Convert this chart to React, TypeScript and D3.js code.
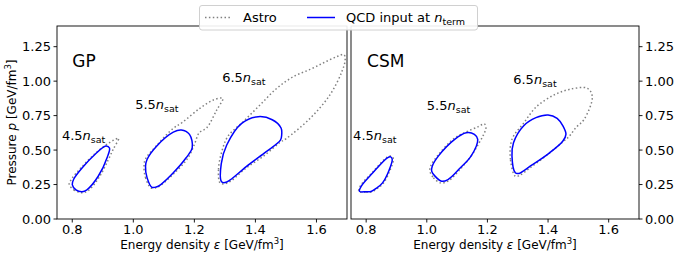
import React from "react";
import * as d3 from "d3";

type Pt = [number, number];

// axis ticks
const xTicks = [0.8, 1.0, 1.2, 1.4, 1.6];
const yTicks = [0, 0.25, 0.5, 0.75, 1.0, 1.25];
const densities = ["4.5", "5.5", "6.5"];

// GP panel contours (energy density, pressure)
const gp45Astro: Pt[] = [[0.79, 0.25], [0.805, 0.212], [0.83, 0.19], [0.852, 0.205], [0.89, 0.31], [0.918, 0.43], [0.935, 0.51], [0.952, 0.585], [0.938, 0.575], [0.912, 0.54], [0.875, 0.475], [0.83, 0.375], [0.798, 0.29]];
const gp45Qcd: Pt[] = [[0.8, 0.25], [0.812, 0.212], [0.832, 0.198], [0.848, 0.212], [0.885, 0.31], [0.915, 0.45], [0.922, 0.515], [0.91, 0.53], [0.875, 0.47], [0.832, 0.37], [0.805, 0.29]];
const gp55Astro: Pt[] = [[1.035, 0.383], [1.04, 0.3], [1.058, 0.225], [1.075, 0.228], [1.09, 0.245], [1.133, 0.33], [1.178, 0.44], [1.2, 0.54], [1.216, 0.626], [1.24, 0.66], [1.273, 0.79], [1.293, 0.875], [1.262, 0.863], [1.218, 0.803], [1.16, 0.7], [1.131, 0.658], [1.077, 0.535], [1.04, 0.435]];
const gp55Qcd: Pt[] = [[1.04, 0.383], [1.045, 0.3], [1.061, 0.23], [1.075, 0.232], [1.09, 0.25], [1.131, 0.335], [1.173, 0.444], [1.193, 0.517], [1.184, 0.614], [1.157, 0.646], [1.131, 0.63], [1.077, 0.53], [1.045, 0.432]];
const gp65Astro: Pt[] = [[1.284, 0.262], [1.279, 0.36], [1.29, 0.49], [1.31, 0.6], [1.36, 0.706], [1.415, 0.827], [1.47, 0.948], [1.524, 1.032], [1.579, 1.085], [1.625, 1.135], [1.666, 1.177], [1.69, 1.192], [1.694, 1.155], [1.683, 1.068], [1.644, 0.9], [1.579, 0.73], [1.502, 0.585], [1.48, 0.555], [1.43, 0.462], [1.365, 0.362], [1.32, 0.276], [1.298, 0.255]];
const gp65Qcd: Pt[] = [[1.289, 0.27], [1.288, 0.4], [1.306, 0.537], [1.355, 0.694], [1.409, 0.742], [1.455, 0.72], [1.484, 0.66], [1.486, 0.609], [1.482, 0.572], [1.43, 0.48], [1.37, 0.38], [1.317, 0.283], [1.3, 0.264]];

// CSM panel contours
const csm45Astro: Pt[] = [[0.776, 0.198], [0.8, 0.195], [0.818, 0.197], [0.838, 0.223], [0.857, 0.26], [0.878, 0.35], [0.89, 0.435], [0.884, 0.455], [0.87, 0.449], [0.82, 0.337], [0.781, 0.24]];
const csm45Qcd: Pt[] = [[0.778, 0.2], [0.8, 0.198], [0.816, 0.2], [0.835, 0.225], [0.854, 0.262], [0.875, 0.35], [0.886, 0.432], [0.881, 0.451], [0.87, 0.444], [0.822, 0.335], [0.784, 0.238]];
const csm55Astro: Pt[] = [[1.01, 0.35], [1.022, 0.3], [1.045, 0.262], [1.07, 0.275], [1.11, 0.36], [1.146, 0.456], [1.172, 0.55], [1.187, 0.61], [1.195, 0.66], [1.19, 0.69], [1.17, 0.67], [1.13, 0.632], [1.09, 0.585], [1.036, 0.46], [1.013, 0.385]];
const csm55Qcd: Pt[] = [[1.016, 0.347], [1.027, 0.311], [1.049, 0.274], [1.07, 0.286], [1.11, 0.37], [1.146, 0.456], [1.168, 0.578], [1.157, 0.614], [1.13, 0.626], [1.092, 0.578], [1.038, 0.456], [1.018, 0.383]];
const csm65Astro: Pt[] = [[1.292, 0.31], [1.276, 0.432], [1.281, 0.578], [1.319, 0.694], [1.362, 0.815], [1.42, 0.9], [1.47, 0.94], [1.53, 0.948], [1.546, 0.887], [1.519, 0.723], [1.492, 0.663], [1.47, 0.6], [1.449, 0.56], [1.4, 0.47], [1.34, 0.37], [1.305, 0.315]];
const csm65Qcd: Pt[] = [[1.292, 0.335], [1.281, 0.456], [1.286, 0.553], [1.319, 0.675], [1.36, 0.735], [1.4, 0.755], [1.43, 0.73], [1.449, 0.675], [1.459, 0.614], [1.449, 0.566], [1.405, 0.48], [1.341, 0.383], [1.303, 0.33]];

const FONT = "DejaVu Sans, sans-serif";
const TOP = 26;
const BOTTOM = 219;
const astroColor = "#808080";
const qcdColor = "#0000ff";

const NSat = ({ x, y, d }: { x: number; y: number; d: string }) => (
  <text x={x} y={y} fontSize={13} fontFamily={FONT}>
    {d}
    <tspan fontStyle="italic">n</tspan>
    <tspan fontSize={9.5} dy={3}>sat</tspan>
  </text>
);

const Panel = ({ left, right, title, astro, qcd, labelAt, axisRight }: any) => {
  const x = d3.scaleLinear().domain([0.75, 1.7]).range([left, right]);
  const y = d3.scaleLinear().domain([0, 1.4]).range([BOTTOM, TOP]);
  const path = d3
    .line<Pt>()
    .x((d) => x(d[0]))
    .y((d) => y(d[1]))
    .curve(d3.curveCatmullRomClosed.alpha(0.5));
  const yEdge = axisRight ? right : left;
  const dir = axisRight ? 1 : -1;
  return (
    <g fontFamily={FONT}>
      {astro.map((c: Pt[], i: number) => (
        <path key={"a" + i} d={path(c) || ""} fill="none" stroke={astroColor} strokeWidth={1.5} strokeDasharray="1.5,2.4" />
      ))}
      {qcd.map((c: Pt[], i: number) => (
        <path key={"q" + i} d={path(c) || ""} fill="none" stroke={qcdColor} strokeWidth={1.5} />
      ))}
      {densities.map((d, i) => (
        <NSat key={d} x={x(labelAt[i][0])} y={y(labelAt[i][1])} d={d} />
      ))}
      <text x={x(labelAt[3][0])} y={y(labelAt[3][1])} fontSize={17}>{title}</text>
      <rect x={left} y={TOP} width={right - left} height={BOTTOM - TOP} fill="none" stroke="#000" strokeWidth={0.9} />
      {xTicks.map((t) => (
        <g key={t}>
          <line x1={x(t)} x2={x(t)} y1={BOTTOM} y2={BOTTOM + 3.5} stroke="#000" strokeWidth={0.9} />
          <text x={x(t)} y={BOTTOM + 15} fontSize={13} textAnchor="middle">{t.toFixed(1)}</text>
        </g>
      ))}
      {yTicks.map((t) => (
        <g key={t}>
          <line x1={yEdge} x2={yEdge + dir * 3.5} y1={y(t)} y2={y(t)} stroke="#000" strokeWidth={0.9} />
          <text x={yEdge + dir * 6} y={y(t) + 4.6} fontSize={13} textAnchor={axisRight ? "start" : "end"}>{t.toFixed(2)}</text>
        </g>
      ))}
      <text x={(left + right) / 2} y={249} fontSize={12} textAnchor="middle">
        Energy density <tspan fontStyle="italic">ε</tspan> [GeV/fm<tspan fontSize={8.5} dy={-5}>3</tspan><tspan dy={5}>]</tspan>
      </text>
    </g>
  );
};

export default function App() {
  return (
    <svg width={680} height={260} style={{ position: "absolute", left: 0, top: 0, background: "#fff" }}>
      <Panel
        left={57}
        right={347}
        title="GP"
        astro={[gp45Astro, gp55Astro, gp65Astro]}
        qcd={[gp45Qcd, gp55Qcd, gp65Qcd]}
        labelAt={[[0.766, 0.575], [1.006, 0.8], [1.291, 0.993], [0.8, 1.1]]}
      />
      <Panel
        left={351}
        right={639}
        axisRight
        title="CSM"
        astro={[csm45Astro, csm55Astro, csm65Astro]}
        qcd={[csm45Qcd, csm55Qcd, csm65Qcd]}
        labelAt={[[0.757, 0.575], [1.0, 0.79], [1.285, 0.98], [0.803, 1.1]]}
      />
      <text transform="translate(16,122.5) rotate(-90)" fontSize={12} fontFamily={FONT} textAnchor="middle">
        Pressure <tspan fontStyle="italic">p</tspan> [GeV/fm<tspan fontSize={8.5} dy={-5}>3</tspan><tspan dy={5}>]</tspan>
      </text>
      <g fontFamily={FONT} fontSize={13}>
        <rect x={199.5} y={5.5} width={278} height={24.5} rx={2.5} fill="#fff" fillOpacity={0.9} stroke="#d0d0d0" />
        <line x1={205} x2={232} y1={17.5} y2={17.5} stroke={astroColor} strokeWidth={1.5} strokeDasharray="1.5,2.4" />
        <text x={243} y={22}>Astro</text>
        <line x1={307} x2={335} y1={17.5} y2={17.5} stroke={qcdColor} strokeWidth={1.5} />
        <text x={346} y={22}>
          QCD input at <tspan fontStyle="italic">n</tspan><tspan fontSize={9.5} dy={3}>term</tspan>
        </text>
      </g>
    </svg>
  );
}
